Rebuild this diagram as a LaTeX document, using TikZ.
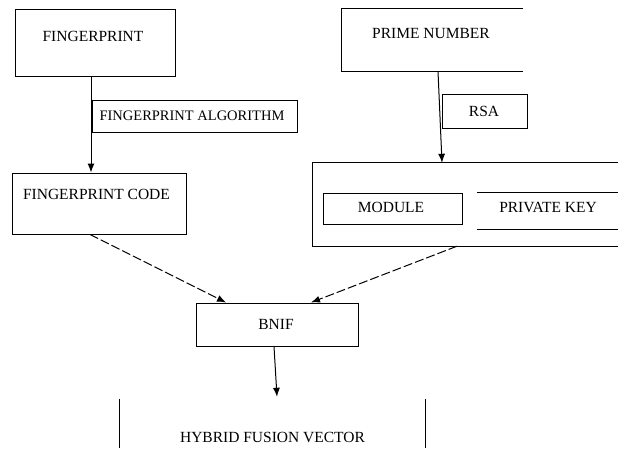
\documentclass[tikz,border=0pt]{standalone}
\usepackage{fontspec}
\setmainfont{Liberation Serif}
\usetikzlibrary{arrows.meta}
\begin{document}
\begin{tikzpicture}[x=1pt,y=-1pt,
  box/.style={draw,line width=1pt,minimum width=#1,inner sep=0pt},
  open/.style={inner sep=0pt},
  edge/.style={line width=1pt},
  lbl/.style={inner sep=0pt,font=\fontsize{15.5}{15.5}\selectfont},
  arr/.style={line width=1pt,-{Latex[length=9pt,width=7pt]}},
  darr/.style={arr,dash pattern=on 9pt off 3pt}]
\useasboundingbox (0,0) rectangle (618,448);
% left column
\node[box=160pt,minimum height=67pt] (fp) at (95,42.5) {};
\node[lbl] (fpt) at (93,36) {FINGERPRINT};
\node[box=205pt,minimum height=32pt] (fpa) at (194.5,116) {};
\node[lbl,font=\fontsize{14.5}{14.5}\selectfont] (fpat) at (192,115.5) {FINGERPRINT ALGORITHM};
\node[box=174pt,minimum height=61pt] (fpc) at (99,203.5) {};
\node[lbl] (fpct) at (96.5,194) {FINGERPRINT CODE};
% right column
\node[open,minimum width=181pt,minimum height=62pt] (pn) at (432.5,40) {};
\draw[edge] (pn.north east) -- (pn.north west) -- (pn.south west) -- (pn.south east);
\node[lbl] (pnt) at (431,33) {PRIME NUMBER};
\node[box=85pt,minimum height=34pt] (rsa) at (484.5,111) {};
\node[lbl] (rsat) at (484,111) {RSA};
\node[open,minimum width=305pt,minimum height=83pt] (bb) at (465.5,204.5) {};
\draw[edge] (bb.north east) -- (bb.north west) -- (bb.south west) -- (bb.south east);
\node[box=139pt,minimum height=31pt] (mod) at (392.5,208.5) {};
\node[lbl] (modt) at (391,207) {MODULE};
\node[open,minimum width=141pt,minimum height=36pt] (pk) at (547.5,211) {};
\draw[edge] (pk.north west) -- (pk.north east);
\draw[edge] (pk.south west) -- (pk.south east);
\node[lbl] (pkt) at (548,207) {PRIVATE KEY};
% bottom
\node[box=162pt,minimum height=43pt] (bnif) at (277,324.5) {};
\node[lbl] (bnift) at (276,324) {BNIF};
\node[open,minimum width=305pt,minimum height=49pt] (hf) at (272.5,423.5) {};
\draw[edge] (hf.north west) -- (hf.south west);
\draw[edge] (hf.north east) -- (hf.south east);
\node[lbl] (hft) at (272.5,437) {HYBRID FUSION VECTOR};
% connectors
\draw[arr] ([xshift=-4pt]fp.south) -- ([xshift=-8pt]fpc.north);
\draw[arr] ([xshift=5.5pt]pn.south) -- ([xshift=-23.5pt]bb.north);
\draw[darr] ([xshift=-9pt]fpc.south) -- ([xshift=-51pt]bnif.north);
\draw[darr] ([xshift=-8.5pt]bb.south) -- ([xshift=34pt]bnif.north);
\draw[arr] ([xshift=-3pt]bnif.south) -- ([yshift=2pt]hf.north -| bnif.south);
\end{tikzpicture}
\end{document}
